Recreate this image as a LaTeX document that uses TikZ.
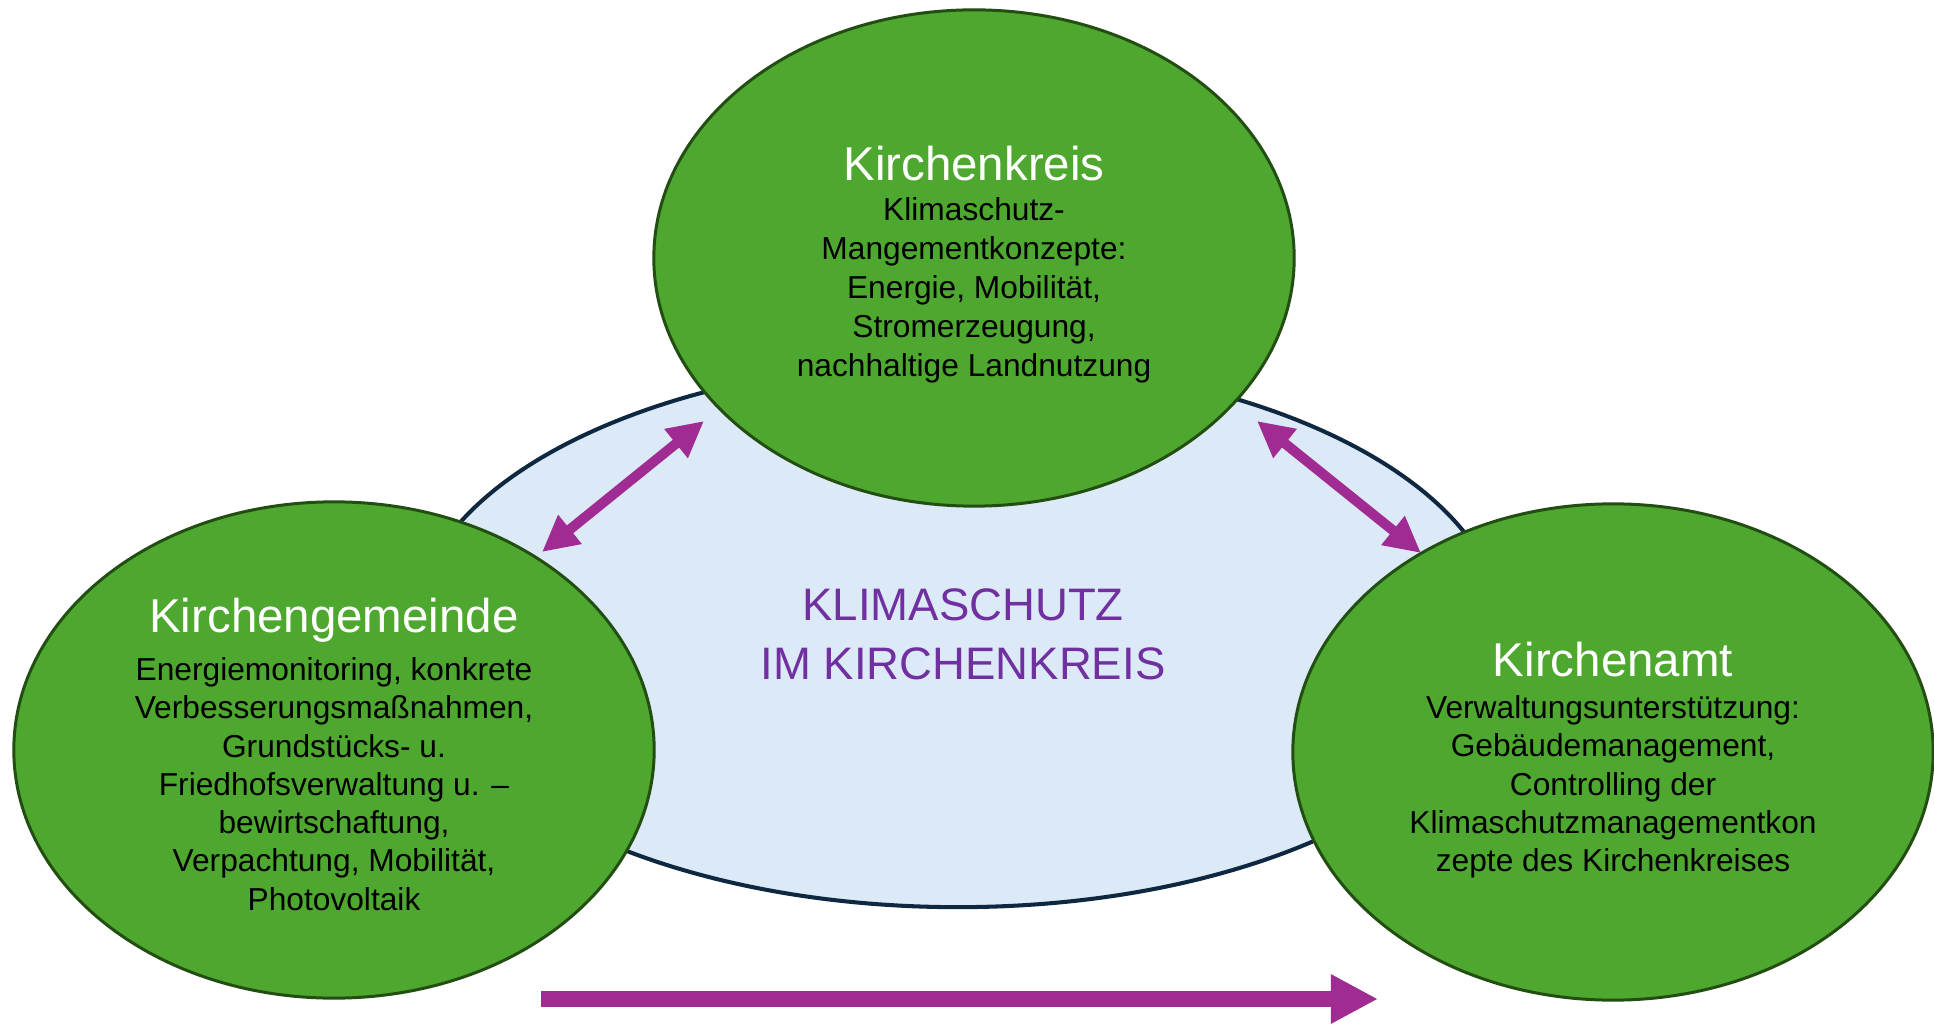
\documentclass[tikz,border=0pt]{standalone}
\usepackage{fontspec}
\setmainfont{Liberation Sans}
\usetikzlibrary{arrows.meta,shapes.geometric}
\definecolor{grn}{RGB}{78,167,46}
\definecolor{grnb}{RGB}{35,78,18}
\definecolor{lblue}{RGB}{220,233,247}
\definecolor{navy}{RGB}{14,40,65}
\definecolor{purp}{RGB}{160,43,147}
\definecolor{ptext}{RGB}{112,48,160}
\tikzset{
  greenell/.style={ellipse, fill=grn, draw=grnb, line width=0.85pt, minimum width=6.40cm, minimum height=4.96cm, inner sep=0pt},
  blueell/.style={ellipse, fill=lblue, draw=navy, line width=1.15pt, minimum width=10.90cm, minimum height=5.46cm, inner sep=0pt},
  titletext/.style={text=white, font=\fontsize{13.5}{16}\selectfont, inner sep=0pt},
  bodytext/.style={text=black, font=\fontsize{9.02}{11.07}\selectfont, align=center, inner sep=0pt},
  bodytextb/.style={text=black, font=\fontsize{9.02}{10.88}\selectfont, align=center, inner sep=0pt},
  centertext/.style={text=ptext, font=\fontsize{12.95}{16.8}\selectfont, align=center, inner sep=0pt},
  dblarrow/.style={purp, line width=0.10cm, {Triangle[length=0.36cm,width=0.35cm]}-{Triangle[length=0.36cm,width=0.35cm]}},
  bigarrow/.style={purp, line width=0.156cm, -{Triangle[length=0.47cm,width=0.46cm]}}
}
\begin{document}
\begin{tikzpicture}[x=0.01cm, y=-0.01cm]
\useasboundingbox[fill=white] (0,0) rectangle (1934,1025);
% central ellipse
\node[blueell] (klima) at (958,634) {};
\node[centertext] (klimatext) at (963,634) {KLIMASCHUTZ\\IM KIRCHENKREIS};
% green ellipses
\node[greenell] (kk) at (974,258) {};
\node[greenell] (kg) at (334,750) {};
\node[greenell] (ka) at (1613,752) {};
% titles
\node[titletext] (kkt) at (974,164) {Kirchenkreis};
\node[titletext] (kgt) at (334,620) {Kirchengemeinde};
\node[titletext] (kat) at (1613,660) {Kirchenamt};
% body texts
\node[bodytext] (kkb) at (974,290) {Klimaschutz-\\Mangementkonzepte:\\Energie, Mobilität,\\Stromerzeugung,\\nachhaltige Landnutzung};
\node[bodytextb] (kgb) at (334,784) {Energiemonitoring, konkrete\\Verbesserungsmaßnahmen,\\Grundstücks- u.\\Friedhofsverwaltung u. –\\bewirtschaftung,\\Verpachtung, Mobilität,\\Photovoltaik};
\node[bodytextb] (kab) at (1613,787) {Verwaltungsunterstützung:\\Gebäudemanagement,\\Controlling der\\Klimaschutzmanagementkon\\zepte des Kirchenkreises};
% arrow end points
\coordinate (a1) at (542,552);
\coordinate (a2) at (704,421);
\coordinate (b1) at (1257,421);
\coordinate (b2) at (1421,553);
\coordinate (c1) at (541,999);
\coordinate (c2) at (1378,999);
\draw[dblarrow] (a1) -- (a2);
\draw[dblarrow] (b1) -- (b2);
\draw[bigarrow] (c1) -- (c2);
\end{tikzpicture}
\end{document}
